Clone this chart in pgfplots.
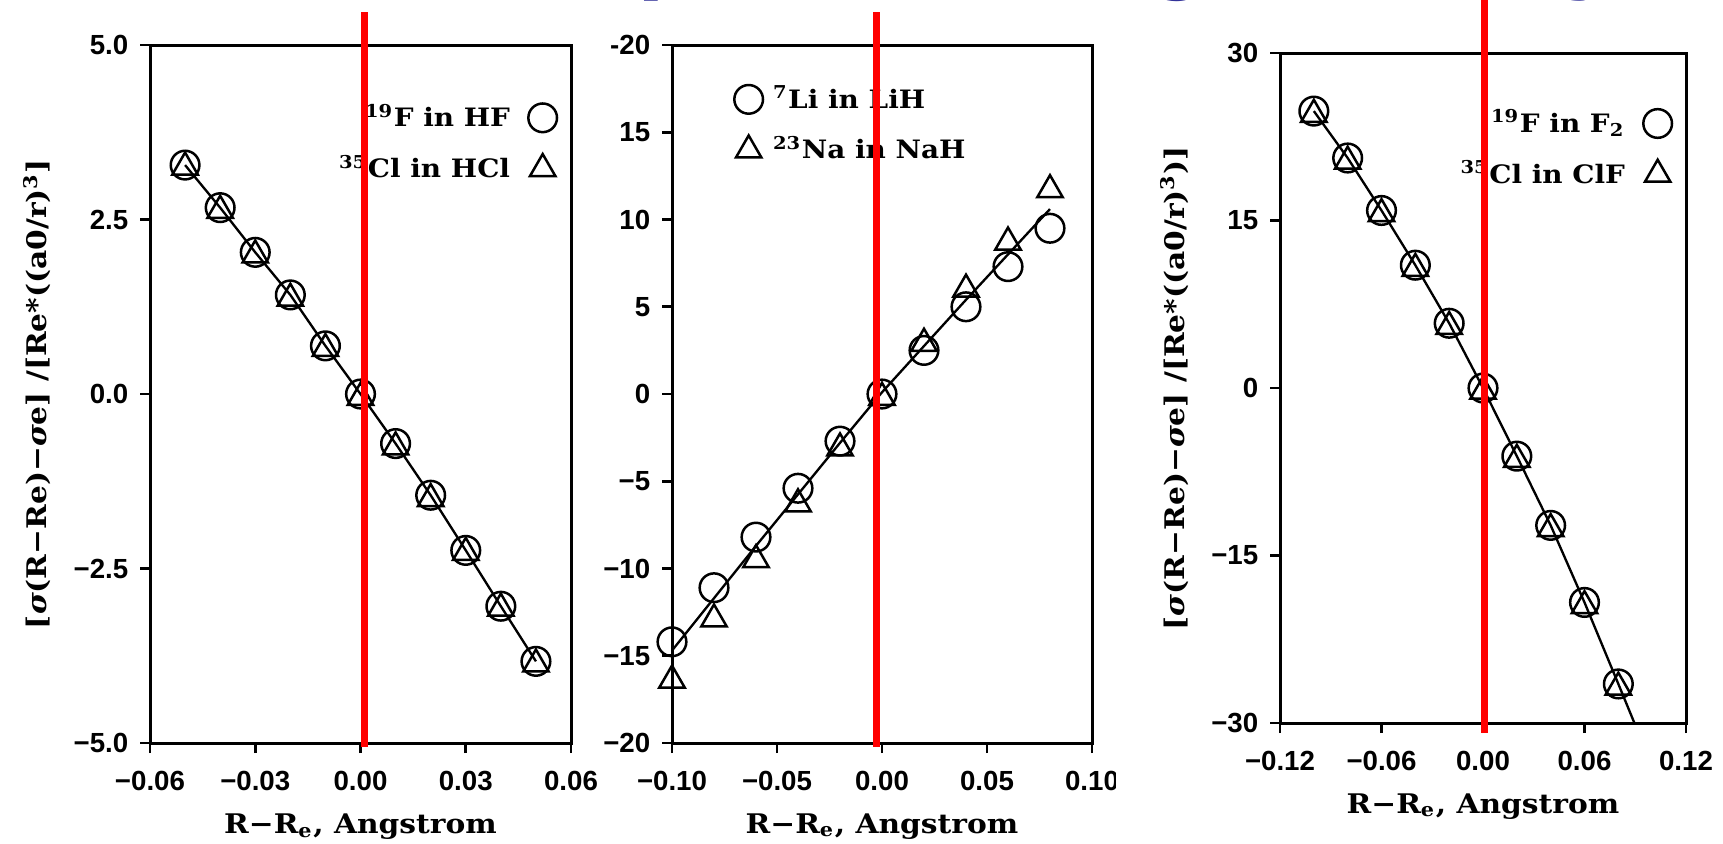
\documentclass[border=0pt]{standalone}
\usepackage{fontspec}
\usepackage{pgfplots}
\pgfplotsset{compat=1.18}
\newfontfamily\lblfontfam[FakeStretch=1.1]{DejaVu Serif}
\newfontfamily\tickfontfam{Liberation Sans}
\newfontfamily\titlefontfam{Liberation Sans}
\definecolor{titleblue}{RGB}{51,51,153}
\newcommand\lbl{\lblfontfam\bfseries\fontsize{8.1pt}{9.8pt}\selectfont}
\newcommand\leg{\lblfontfam\bfseries\fontsize{7.6pt}{9.4pt}\selectfont}
\newcommand\tck{\tickfontfam\bfseries\fontsize{8.3pt}{10pt}\selectfont}
\newcommand\sig{{\itshape σ}}

\pgfplotsset{
  panel/.style={
    scale only axis,
    scaled x ticks=false, scaled y ticks=false,
    axis line style={line width=0.9pt},
    every tick/.style={black, line width=0.8pt},
    tick align=outside,
    major tick length=3pt,
    xtick pos=bottom, ytick pos=left,
    ticklabel style={font=\tck},
    xticklabel style={yshift=-2pt},
    label style={font=\lbl},
    legend style={draw=none, fill=none, font=\leg, row sep=3pt, column sep=3.5pt},
  },
  cmark/.style={only marks, mark=o, mark size=4.3pt, mark options={line width=0.75pt, black}},
  tmark/.style={only marks, mark=triangle, mark size=4.4pt, mark options={line width=0.75pt, black}},
  fitline/.style={black, line width=0.7pt, no marks, forget plot},
}

\pgfplotstableread{
x y
-0.05 3.28
-0.04 2.67
-0.03 2.03
-0.02 1.42
-0.01 0.69
0.00 0.00
0.01 -0.71
0.02 -1.45
0.03 -2.24
0.04 -3.04
0.05 -3.83
}\hfcirc
\pgfplotstableread{
x y
-0.05 3.25
-0.04 2.63
-0.03 1.99
-0.02 1.37
-0.01 0.65
0.00 -0.05
0.01 -0.76
0.02 -1.50
0.03 -2.27
0.04 -3.07
0.05 -3.87
}\hcltri
\pgfplotstableread{
x y
-0.10 -14.2
-0.08 -11.1
-0.06 -8.2
-0.04 -5.4
-0.02 -2.7
0.00 0.0
0.02 2.5
0.04 5.0
0.06 7.3
0.08 9.5
}\lihcirc
\pgfplotstableread{
x y
-0.10 -16.4
-0.08 -12.9
-0.06 -9.5
-0.04 -6.3
-0.02 -3.1
0.00 -0.2
0.02 2.9
0.04 6.0
0.06 8.7
0.08 11.7
}\nahtri
\pgfplotstableread{
x y
-0.10 -14.7
-0.06 -8.7
-0.02 -2.8
0.00 0.1
0.04 5.4
0.08 10.6
}\lihline
\pgfplotstableread{
x y
-0.10 24.8
-0.08 20.6
-0.06 15.9
-0.04 11.0
-0.02 5.8
0.00 0.0
0.02 -6.1
0.04 -12.3
0.06 -19.2
0.08 -26.5
}\ftwocirc
\pgfplotstableread{
x y
-0.10 24.5
-0.08 20.3
-0.06 15.6
-0.04 10.7
-0.02 5.5
0.00 -0.3
0.02 -6.4
0.04 -12.6
0.06 -19.5
0.08 -26.8
}\clftri
\pgfplotstableread{
x y
-0.10 24.8
-0.08 20.6
-0.06 15.9
-0.04 11.0
-0.02 5.8
0.00 0.0
0.02 -6.1
0.04 -12.3
0.06 -19.2
0.08 -26.5
0.0895 -30.0
}\ftwoline

\begin{document}
\begin{tikzpicture}
\useasboundingbox[fill=white] (0,0) rectangle (516.9pt,-252.9pt);

% cut-off blue slide title (only descenders visible)
\begin{scope}[every node/.style={overlay, anchor=base west, inner sep=0pt, text=titleblue}]
\node at (191.1pt,6.0pt) {\titlefontfam\bfseries\fontsize{30pt}{30pt}\selectfont p};
\node at (344.0pt,6.0pt) {\titlefontfam\bfseries\fontsize{30pt}{30pt}\selectfont g};
\node at (469.8pt,6.0pt) {\titlefontfam\bfseries\fontsize{30pt}{30pt}\selectfont y};
\end{scope}

% ---------- panel 1 ----------
\begin{axis}[panel,
  at={(45pt,-222.9pt)}, anchor=south west,
  width=126.3pt, height=209.4pt,
  xmin=-0.06, xmax=0.06, ymin=-5, ymax=5,
  xtick={-0.06,-0.03,0,0.03,0.06},
  xticklabels={−0.06,−0.03,0.00,0.03,0.06},
  ytick={-5,-2.5,0,2.5,5},
  yticklabels={−5.0,−2.5,0.0,2.5,5.0},
  xlabel={R−R\textsubscript{e}, Angstrom},
  ylabel={[\sig(R−Re)−\sig e] /[Re*((a0/r)\textsuperscript{3}]},
  legend plot pos=right, legend cell align=right,
  legend style={at={(1,1)}, anchor=north east, xshift=-1pt, yshift=-13.5pt},
]
\addplot[fitline] table {\hfcirc};
\addplot[cmark] table {\hfcirc};
\addlegendentry{\textsuperscript{19}F in HF\hspace{3pt}}
\addplot[tmark] table {\hcltri};
\addlegendentry{\textsuperscript{35}Cl in HCl\hspace{3pt}}
\end{axis}

% ---------- panel 2 ----------
\begin{axis}[panel,
  at={(201.6pt,-222.9pt)}, anchor=south west,
  width=126pt, height=209.4pt,
  xmin=-0.10, xmax=0.10, ymin=-20, ymax=20,
  xtick={-0.10,-0.05,0,0.05,0.10},
  xticklabels={−0.10,−0.05,0.00,0.05,0.10},
  ytick={-20,-15,-10,-5,0,5,10,15,20},
  yticklabels={−20,−15,−10,−5,0,5,10,15,-20},
  xlabel={R−R\textsubscript{e}, Angstrom},
  legend plot pos=left, legend cell align=left,
  legend style={at={(0,1)}, anchor=north west, xshift=15.5pt, yshift=-8pt, column sep=1pt},
]
\addplot[fitline] table {\lihline};
\addplot[cmark] table {\lihcirc};
\addlegendentry{\textsuperscript{7}Li in LiH}
\addplot[tmark] table {\nahtri};
\addlegendentry{\textsuperscript{23}Na in NaH}
\end{axis}
\fill[white] (334.8pt,-225pt) rectangle (348pt,-240pt);

% ---------- panel 3 ----------
\begin{axis}[panel,
  at={(384pt,-216.9pt)}, anchor=south west,
  width=121.8pt, height=201pt,
  xmin=-0.12, xmax=0.12, ymin=-30, ymax=30,
  xtick={-0.12,-0.06,0,0.06,0.12},
  xticklabels={−0.12,−0.06,0.00,0.06,0.12},
  ytick={-30,-15,0,15,30},
  yticklabels={−30,−15,0,15,30},
  xlabel={R−R\textsubscript{e}, Angstrom},
  ylabel={[\sig(R−Re)−\sig e] /[Re*((a0/r)\textsuperscript{3})]},
  legend plot pos=right, legend cell align=right,
  legend style={at={(1,1)}, anchor=north east, xshift=-1pt, yshift=-12.8pt},
]
\addplot[fitline] table {\ftwoline};
\addplot[cmark] table {\ftwocirc};
\addlegendentry{\textsuperscript{19}F in F\textsubscript{2}}
\addplot[tmark] table {\clftri};
\addlegendentry{\textsuperscript{35}Cl in ClF}
\end{axis}

% red overlay lines of the slide
\draw[red, line width=2.1pt] (109.2pt,-3.6pt) -- (109.2pt,-224.1pt);
\draw[red, line width=2.1pt] (262.8pt,-3.6pt) -- (262.8pt,-224.1pt);
\draw[red, line width=2.1pt] (445.2pt,0pt) -- (445.2pt,-219.9pt);
\end{tikzpicture}
\end{document}
